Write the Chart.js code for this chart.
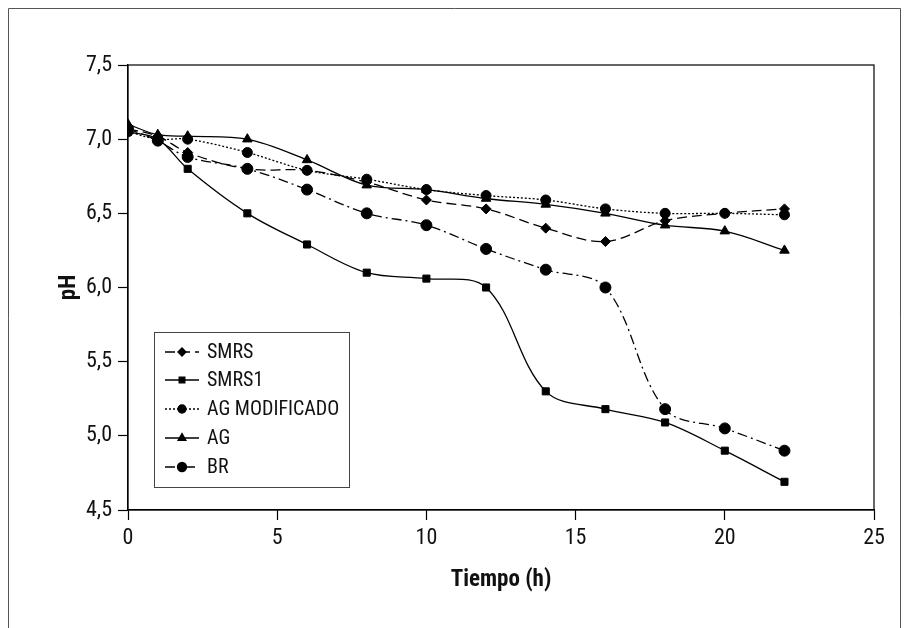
<!DOCTYPE html>
<html>
<head>
<meta charset="utf-8">
<script src="https://cdn.jsdelivr.net/npm/chart.js@4.4.1/dist/chart.umd.min.js"></script>
<style>
  html, body { margin: 0; padding: 0; background: #fff; }
  #wrap { width: 909px; height: 628px; position: relative; }
</style>
</head>
<body>
<div id="wrap"><canvas id="phChart" width="909" height="628"></canvas></div>
<script>
// time points (h)
const tiempo = [0, 1, 2, 4, 6, 8, 10, 12, 14, 16, 18, 20, 22];

// pH values
const smrs    = [7.07, 7.02, 6.91, 6.80, 6.79, 6.71, 6.59, 6.53, 6.40, 6.31, 6.45, 6.50, 6.53];
const smrs1   = [7.05, 7.00, 6.80, 6.50, 6.29, 6.10, 6.06, 6.00, 5.30, 5.18, 5.09, 4.90, 4.69];
const agMod   = [7.05, 7.00, 7.00, 6.91, 6.79, 6.73, 6.66, 6.62, 6.59, 6.53, 6.50, 6.50, 6.49];
const ag      = [7.10, 7.03, 7.02, 7.00, 6.86, 6.69, 6.66, 6.60, 6.56, 6.50, 6.42, 6.38, 6.25];
const br      = [7.07, 6.99, 6.88, 6.80, 6.66, 6.50, 6.42, 6.26, 6.12, 6.00, 5.18, 5.05, 4.90];

const seriesNames = ['SMRS', 'SMRS1', 'AG MODIFICADO', 'AG', 'BR'];
const xTicks = [0, 5, 10, 15, 20, 25];
const yMin = 4.5, yMax = 7.5, yStep = 0.5;

const FONT = '"Roboto Condensed", Roboto, "Liberation Sans", sans-serif';

function pts(vals) {
  return tiempo.map((t, i) => ({ x: t, y: vals[i] }));
}

function ds(label, vals, style, radius, dash) {
  return {
    label: label,
    data: pts(vals),
    borderColor: '#000',
    backgroundColor: '#000',
    borderWidth: 1.3,
    borderDash: dash,
    pointStyle: style,
    pointRadius: radius,
    pointHoverRadius: radius,
    pointBorderWidth: 1,
    tension: 0.35,
    fill: false
  };
}

// legend drawn inside the plot, like the original
const innerLegend = {
  id: 'innerLegend',
  afterDatasetsDraw(chart) {
    const ctx = chart.ctx;
    const bx = 154, by = 332, bw = 195, bh = 155;
    ctx.save();
    ctx.fillStyle = '#fff';
    ctx.fillRect(bx, by, bw, bh);
    ctx.strokeStyle = '#444';
    ctx.lineWidth = 1;
    ctx.strokeRect(bx + 0.5, by + 0.5, bw, bh);
    const rows = [352, 380, 409, 438, 467];
    chart.data.datasets.forEach((d, i) => {
      const y = rows[i];
      ctx.strokeStyle = '#000';
      ctx.lineWidth = 1.3;
      ctx.setLineDash(d.borderDash || []);
      ctx.beginPath();
      ctx.moveTo(165, y);
      ctx.lineTo(199, y);
      ctx.stroke();
      ctx.setLineDash([]);
      ctx.fillStyle = '#000';
      Chart.helpers.drawPoint(ctx, {
        pointStyle: d.pointStyle,
        radius: Math.max(d.pointRadius - 1, 3.5),
        rotation: 0,
        borderWidth: 1
      }, 182, y);
      ctx.fillStyle = '#111';
      ctx.font = '20px ' + FONT;
      ctx.textBaseline = 'middle';
      ctx.textAlign = 'left';
      ctx.fillText(d.label, 207, y + 1);
    });
    ctx.restore();
  }
};

// plot frame and outer page frame
const frames = {
  id: 'frames',
  beforeDatasetsDraw(chart) {
    const a = chart.chartArea;
    const ctx = chart.ctx;
    ctx.save();
    ctx.strokeStyle = '#000';
    ctx.lineWidth = 1.2;
    ctx.strokeRect(a.left, a.top, a.right - a.left, a.bottom - a.top);
    ctx.strokeStyle = '#555';
    ctx.lineWidth = 1;
    ctx.beginPath();
    ctx.moveTo(8.5, 628);
    ctx.lineTo(8.5, 8.5);
    ctx.lineTo(900.5, 8.5);
    ctx.lineTo(900.5, 628);
    ctx.stroke();
    ctx.restore();
  }
};

new Chart(document.getElementById('phChart'), {
  type: 'line',
  data: {
    datasets: [
      ds(seriesNames[0], smrs, 'rectRot', 5, [10, 5]),
      ds(seriesNames[1], smrs1, 'rect', 5, []),
      ds(seriesNames[2], agMod, 'circle', 5, [2, 2]),
      ds(seriesNames[3], ag, 'triangle', 5.5, []),
      ds(seriesNames[4], br, 'circle', 5.5, [10, 4, 2, 4])
    ]
  },
  options: {
    responsive: false,
    animation: false,
    layout: { padding: { left: 50, top: 65, right: 35, bottom: 20 } },
    plugins: {
      legend: { display: false },
      tooltip: { enabled: false }
    },
    scales: {
      x: {
        type: 'linear',
        min: 0,
        max: 25,
        afterBuildTicks(scale) { scale.ticks = xTicks.map(v => ({ value: v })); },
        afterFit(scale) { scale.height = 98; },
        grid: { drawOnChartArea: false, color: '#000', tickLength: 10, tickWidth: 1.2 },
        border: { color: '#000', width: 1.2 },
        ticks: { color: '#111', padding: 5, maxRotation: 0, font: { family: FONT, size: 22 } },
        title: {
          display: true,
          text: 'Tiempo (h)',
          color: '#111',
          padding: { top: 0, bottom: 14 },
          font: { family: FONT, size: 23, weight: 'bold' }
        }
      },
      y: {
        min: yMin,
        max: yMax,
        afterFit(scale) { scale.width = 78; },
        grid: { drawOnChartArea: false, color: '#000', tickLength: 10, tickWidth: 1.2 },
        border: { color: '#000', width: 1.2 },
        ticks: {
          stepSize: yStep,
          color: '#111',
          padding: 6,
          font: { family: FONT, size: 22 },
          callback: v => v.toFixed(1).replace('.', ',')
        },
        title: {
          display: true,
          text: 'pH',
          color: '#111',
          padding: { top: 5, bottom: 0 },
          font: { family: FONT, size: 23, weight: 'bold' }
        }
      }
    }
  },
  plugins: [frames, innerLegend]
});
</script>
</body>
</html>
